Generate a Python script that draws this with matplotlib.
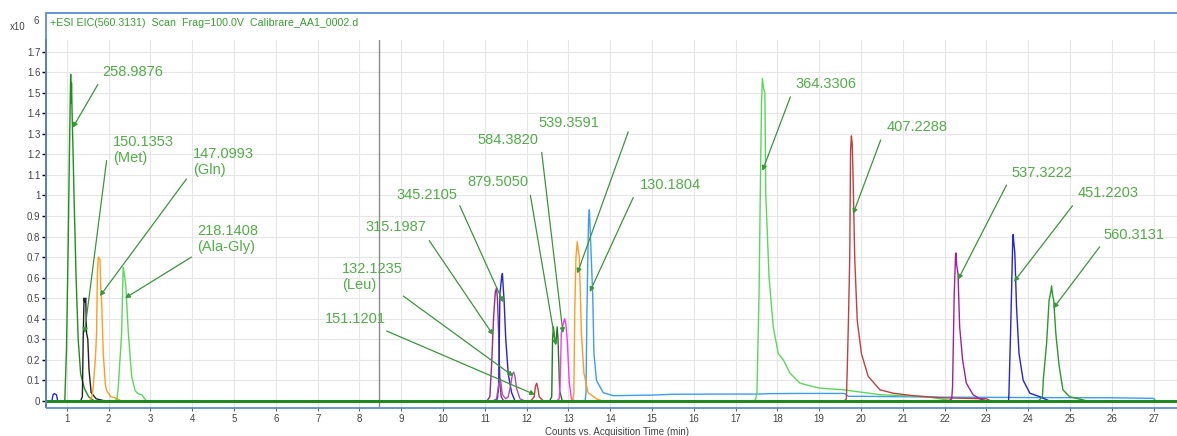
import matplotlib
matplotlib.use("Agg")
import matplotlib.pyplot as plt
from matplotlib.patches import Rectangle

plt.rcParams["font.family"] = ["Liberation Sans", "DejaVu Sans"]

# ---- traces: (time min, counts x10^6) ----
blue_early_t = [0.55, 0.64, 0.67, 0.70, 0.75, 0.78, 0.82, 4.5]
blue_early_y = [0, 0, 0.03, 0.035, 0.03, 0, 0, 0]

g259_t = [0.90, 0.95, 0.99, 1.03, 1.06, 1.09, 1.10, 1.11, 1.13, 1.15, 1.17, 1.22, 1.27, 1.33, 1.42, 1.52, 1.65]
g259_y = [0, 0, 0.25, 0.75, 1.2, 1.59, 1.45, 1.55, 1.35, 1.19, 1.0, 0.6, 0.3, 0.13, 0.06, 0.02, 0]

k150_t = [1.33, 1.37, 1.39, 1.41, 1.43, 1.45, 1.47, 1.50, 1.53, 1.58, 1.70, 1.90]
k150_y = [0, 0.02, 0.30, 0.50, 0.48, 0.50, 0.33, 0.30, 0.15, 0.04, 0.01, 0]

o147_t = [1.55, 1.60, 1.63, 1.68, 1.71, 1.73, 1.75, 1.79, 1.81, 1.83, 1.87, 1.92, 1.95, 2.05, 2.15, 2.30]
o147_y = [0, 0.02, 0.07, 0.20, 0.33, 0.62, 0.70, 0.69, 0.55, 0.49, 0.23, 0.08, 0.05, 0.02, 0.015, 0]

lg218_t = [2.15, 2.20, 2.23, 2.27, 2.31, 2.34, 2.35, 2.37, 2.41, 2.47, 2.55, 2.63, 2.70, 2.79, 2.90]
lg218_y = [0, 0.01, 0.07, 0.2, 0.33, 0.60, 0.65, 0.62, 0.56, 0.33, 0.12, 0.05, 0.035, 0.03, 0]

p315_t = [11.05, 11.12, 11.16, 11.21, 11.25, 11.28, 11.30, 11.33, 11.36, 11.39, 11.45]
p315_y = [0, 0.02, 0.17, 0.41, 0.53, 0.55, 0.50, 0.33, 0.09, 0.02, 0]

b345_t = [11.25, 11.30, 11.33, 11.36, 11.40, 11.42, 11.44, 11.46, 11.50, 11.56, 11.64, 11.72]
b345_y = [0, 0.01, 0.07, 0.52, 0.60, 0.62, 0.55, 0.49, 0.30, 0.13, 0.04, 0]

p132_t = [11.20, 11.28, 11.33, 11.37, 11.42, 11.50, 11.56, 11.62, 11.66, 11.69, 11.72, 11.76, 11.84, 11.95]
p132_y = [0, 0.01, 0.08, 0.11, 0.03, 0.01, 0.02, 0.08, 0.13, 0.14, 0.12, 0.06, 0.01, 0]

r151_t = [12.10, 12.18, 12.21, 12.24, 12.27, 12.30, 12.40]
r151_y = [0, 0.02, 0.07, 0.086, 0.06, 0.02, 0]

g879_t = [12.55, 12.60, 12.62, 12.64, 12.67, 12.70, 12.73, 12.75, 12.79, 12.85]
g879_y = [0, 0.02, 0.30, 0.36, 0.30, 0.28, 0.36, 0.30, 0.05, 0]

m584_t = [12.72, 12.78, 12.80, 12.83, 12.88, 12.91, 12.94, 12.97, 13.02, 13.07, 13.15]
m584_y = [0, 0.01, 0.08, 0.33, 0.38, 0.40, 0.37, 0.30, 0.09, 0.01, 0]

o539_t = [13.05, 13.11, 13.13, 13.15, 13.18, 13.21, 13.23, 13.26, 13.31, 13.37, 13.47, 13.67, 13.8]
o539_y = [0, 0.01, 0.04, 0.43, 0.70, 0.775, 0.74, 0.70, 0.33, 0.135, 0.04, 0.01, 0]

lb130_t = [13.35, 13.40, 13.42, 13.44, 13.46, 13.48, 13.50, 13.53, 13.58, 13.61, 13.67, 13.83, 14.07,
           15.0, 15.5, 16.5, 17.5, 17.8, 18.5, 19.6, 19.7, 20.0, 21.0, 22.0, 24.0, 26.0, 27.0, 27.05]
lb130_y = [0, 0, 0.04, 0.40, 0.65, 0.88, 0.93, 0.78, 0.52, 0.23, 0.10, 0.04, 0.025,
           0.028, 0.032, 0.033, 0.033, 0.035, 0.036, 0.036, 0.022, 0.022, 0.02, 0.018, 0.016, 0.015, 0.012, 0]

lg364_t = [17.45, 17.48, 17.51, 17.56, 17.60, 17.62, 17.64, 17.67, 17.70, 17.72, 17.80, 17.90, 18.02,
           18.14, 18.30, 18.54, 18.78, 19.01, 19.57, 20.45, 21.57, 22.2]
lg364_y = [0, 0.01, 0.04, 0.52, 1.17, 1.45, 1.57, 1.52, 1.50, 1.01, 0.60, 0.36, 0.23,
           0.20, 0.135, 0.086, 0.073, 0.062, 0.054, 0.03, 0.02, 0]

r407_t = [19.60, 19.65, 19.67, 19.70, 19.73, 19.75, 19.77, 19.79, 19.81, 19.85, 19.91, 20.01, 20.17,
          20.45, 20.77, 21.25, 21.89, 23.0, 23.1]
r407_y = [0, 0.01, 0.15, 0.40, 0.70, 1.22, 1.29, 1.25, 1.09, 0.69, 0.39, 0.23, 0.12,
          0.054, 0.037, 0.025, 0.015, 0.01, 0]

p537_t = [22.10, 22.17, 22.19, 22.23, 22.26, 22.27, 22.29, 22.32, 22.36, 22.43, 22.52, 22.68, 22.84, 23.0]
p537_y = [0, 0.01, 0.07, 0.52, 0.70, 0.72, 0.66, 0.62, 0.36, 0.20, 0.086, 0.03, 0.01, 0]

b451_t = [23.45, 23.53, 23.54, 23.58, 23.60, 23.63, 23.64, 23.66, 23.68, 23.72, 23.78, 23.88, 24.04, 24.28, 24.5]
b451_y = [0, 0, 0.04, 0.35, 0.52, 0.78, 0.81, 0.76, 0.72, 0.46, 0.23, 0.10, 0.037, 0.02, 0]

g560_t = [24.25, 24.34, 24.36, 24.44, 24.50, 24.54, 24.56, 24.58, 24.61, 24.66, 24.74, 24.83, 24.99, 25.2, 25.4]
g560_y = [0, 0.02, 0.10, 0.28, 0.49, 0.53, 0.56, 0.52, 0.49, 0.33, 0.17, 0.054, 0.02, 0.01, 0]

base_t = [0.5, 27.6]
base_y = [0, 0]

# ---- peak labels: text, text (t, y) of first line, arrow start, arrow tip ----
labels = ["258.9876", "150.1353\n(Met)", "147.0993\n(Gln)", "218.1408\n(Ala-Gly)",
          "132.1235\n(Leu)", "151.1201", "315.1987", "345.2105", "879.5050", "584.3820",
          "539.3591", "130.1804", "364.3306", "407.2288", "537.3222", "451.2203", "560.3131"]
label_xy = [(1.84, 1.596), (2.10, 1.255), (4.01, 1.197), (4.11, 0.822),
            (7.58, 0.637), (7.17, 0.394), (8.15, 0.842), (8.89, 0.998), (10.59, 1.061), (10.83, 1.265),
            (12.29, 1.348), (14.71, 1.046), (18.42, 1.538), (20.62, 1.328), (23.61, 1.105), (25.19, 1.007),
            (25.81, 0.803)]
arrow_from = [(1.74, 1.54), (1.95, 1.17), (3.86, 1.08), (3.98, 0.70),
              (9.05, 0.51), (8.65, 0.34), (9.67, 0.78), (10.40, 0.95), (12.09, 1.00), (12.36, 1.21),
              (14.43, 1.31), (14.55, 0.99), (18.31, 1.48), (20.47, 1.27), (23.48, 1.05), (25.06, 0.95),
              (25.71, 0.75)]
arrow_to = [(1.14, 1.33), (1.42, 0.33), (1.79, 0.51), (2.39, 0.50),
            (11.68, 0.12), (12.20, 0.03), (11.20, 0.32), (11.44, 0.48), (12.70, 0.27), (12.87, 0.33),
            (13.21, 0.62), (13.51, 0.53), (17.64, 1.12), (19.81, 0.91), (22.32, 0.59), (23.66, 0.58),
            (24.60, 0.45)]

cursor_t = 8.46
title = "+ESI EIC(560.3131)  Scan  Frag=100.0V  Calibrare_AA1_0002.d"

W, H = 1177, 436
fig = plt.figure(figsize=(W / 100, H / 100), dpi=100)
ax = fig.add_axes([46 / W, 1 - 407 / H, 1 - 46 / W, (407 - 40) / H])

traces = [
    (blue_early_t, blue_early_y, "#2828d8"),
    (lb130_t, lb130_y, "#3d9cf5"),
    (lg364_t, lg364_y, "#5ad85a"),
    (r407_t, r407_y, "#c04040"),
    (g259_t, g259_y, "#1f8f1f"),
    (k150_t, k150_y, "#222222"),
    (o147_t, o147_y, "#ff9c22"),
    (lg218_t, lg218_y, "#5ad85a"),
    (p315_t, p315_y, "#8e2e8e"),
    (b345_t, b345_y, "#2424d0"),
    (p132_t, p132_y, "#b050b0"),
    (r151_t, r151_y, "#c04040"),
    (g879_t, g879_y, "#1a7d1a"),
    (m584_t, m584_y, "#ff33ff"),
    (o539_t, o539_y, "#ff9c22"),
    (p537_t, p537_y, "#a020a0"),
    (b451_t, b451_y, "#2424d8"),
    (g560_t, g560_y, "#2a9a2a"),
]
for t, y, c in traces:
    ax.plot(t, y, color=c, lw=1.0)
ax.plot(base_t, base_y, color="#1f8a1f", lw=2.2, zorder=5)

ax.axvline(cursor_t, color="#8a8a8a", lw=1.0, zorder=1)

for txt, (tx, ty), a0, a1 in zip(labels, label_xy, arrow_from, arrow_to):
    ax.annotate("", xy=a1, xytext=a0,
                arrowprops=dict(arrowstyle="-|>", color="#3a963a", lw=0.9,
                                mutation_scale=7, shrinkA=0, shrinkB=0), zorder=6)
    ax.text(tx, ty + 0.039, txt, color="#52ad48", fontsize=10.5, ha="left", va="top",
            linespacing=1.15, zorder=7)

ax.set_xlim(0.5, 27.56)
ax.set_ylim(-0.03, 1.757)
ax.set_xticks(range(1, 28))
yt = [i / 10 for i in range(18)]
ax.set_yticks(yt)
ax.set_yticklabels(["0" if v == 0 else ("1" if v == 1 else f"{v:.1f}") for v in yt])
ax.grid(True, color="#e6e6e6", lw=0.8, zorder=0)
ax.set_axisbelow(True)
for s in ["top", "right", "bottom"]:
    ax.spines[s].set_visible(False)
ax.spines["left"].set_color("black")
ax.spines["left"].set_linewidth(1.2)
ax.tick_params(axis="y", direction="out", length=3, width=1, color="black",
               labelsize=7, labelcolor="#444444", pad=1)
ax.tick_params(axis="x", direction="out", length=3, width=0.8, color="#666666",
               labelsize=7, labelcolor="#444444", pad=2)

# outer blue frame with title strip
fig.patches.append(Rectangle((46 / W, 1 - 408 / H), 1.2, (408 - 13) / H, transform=fig.transFigure,
                             fill=False, edgecolor="#5b8bd8", lw=1.3, zorder=10))
fig.text(50 / W, 1 - 23 / H, title, color="#38a030", fontsize=7.7, ha="left", va="center")
fig.text(10 / W, 1 - 27 / H, "x10", color="#444444", fontsize=7, ha="left", va="center")
fig.text(33 / W, 1 - 21 / H, "6", color="#444444", fontsize=7, ha="left", va="center")
fig.text(617 / W, 1 - 432 / H, "Counts vs. Acquisition Time (min)", color="#444444",
         fontsize=7, ha="center", va="center")

fig.savefig("out.png", dpi=100)
